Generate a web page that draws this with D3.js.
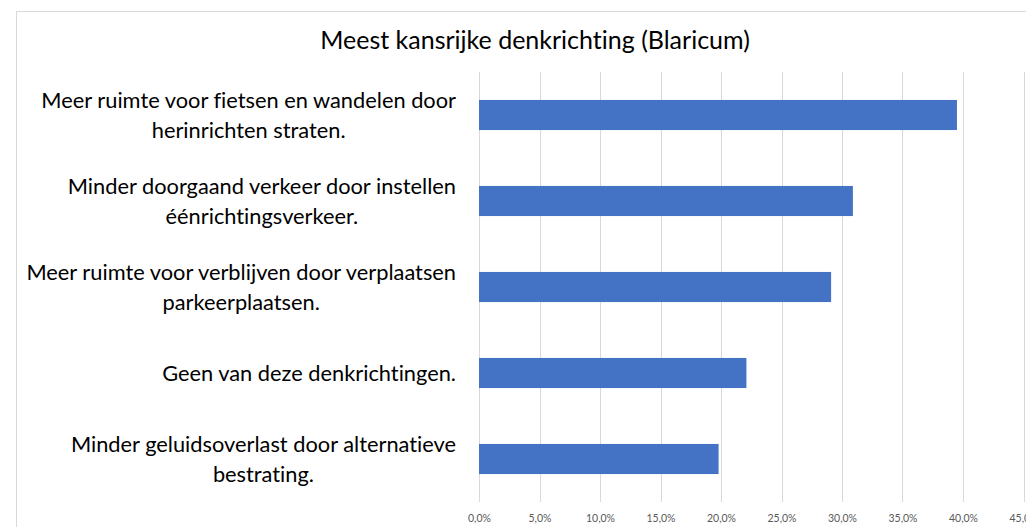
<!DOCTYPE html>
<meta charset="utf-8">
<script src="https://cdn.jsdelivr.net/npm/d3@7/dist/d3.min.js"></script>
<style>
  body { margin: 0; background: #fff; }
  text { font-variant-ligatures: none; }
</style>
<svg width="1026" height="527"></svg>
<script>
// data
var titleText = "Meest kansrijke denkrichting (Blaricum)";
var categories = [
  ["Meer ruimte voor fietsen en wandelen door", "herinrichten straten."],
  ["Minder doorgaand verkeer door instellen", "éénrichtingsverkeer."],
  ["Meer ruimte voor verblijven door verplaatsen", "parkeerplaatsen."],
  ["Geen van deze denkrichtingen."],
  ["Minder geluidsoverlast door alternatieve", "bestrating."]
];
var values = [0.395, 0.309, 0.291, 0.221, 0.198];
var xTicks = [0, 0.05, 0.10, 0.15, 0.20, 0.25, 0.30, 0.35, 0.40, 0.45];

var svg = d3.select("svg"),
  width = +svg.attr("width"),
  height = +svg.attr("height"),
  margin = { top: 72, right: 2.5, bottom: 25, left: 479 };

var nl = d3.formatLocale({ decimal: ",", thousands: ".", grouping: [3], currency: ["", "€"] });
var pct = nl.format(".1%");

//chart border
svg.append("rect")
  .attr("x", 16.5).attr("y", 11.5)
  .attr("width", 1100).attr("height", 600)
  .attr("fill", "#fff")
  .attr("stroke", "#d9d9d9");

//Title
svg.append("text")
  .attr("x", 535).attr("y", 49)
  .attr("text-anchor", "middle")
  .attr("font-family", "Lato, sans-serif")
  .attr("font-size", 25)
  .attr("fill", "#000")
  .text(titleText);

var x = d3.scaleLinear().domain([0, 0.45]).range([margin.left, width - margin.right]);
var y = d3.scaleBand()
  .domain(d3.range(categories.length))
  .range([margin.top, height - margin.bottom])
  .paddingInner(0.65).paddingOuter(0.325);

//grid lines
svg.append("g")
  .selectAll("line")
  .data(xTicks)
  .enter().append("line")
  .attr("x1", function(d) { return Math.round(x(d)) + 0.5; })
  .attr("x2", function(d) { return Math.round(x(d)) + 0.5; })
  .attr("y1", margin.top)
  .attr("y2", height - margin.bottom)
  .attr("stroke", "#d9d9d9")
  .attr("stroke-width", 1);

//x axis labels
var xAxis = svg.append("g")
  .attr("transform", "translate(0," + (height - 5) + ")")
  .call(d3.axisBottom(x).tickValues(xTicks).tickFormat(pct).tickSize(0).tickPadding(0));
xAxis.select(".domain").remove();
xAxis.selectAll("text")
  .attr("dy", 0)
  .attr("font-family", "Lato, sans-serif")
  .attr("font-size", 10.5)
  .attr("fill", "#595959");

//bars
svg.append("g")
  .selectAll("rect")
  .data(values)
  .enter().append("rect")
  .attr("x", x(0))
  .attr("y", function(d, i) { return y(i); })
  .attr("width", function(d) { return x(d) - x(0); })
  .attr("height", y.bandwidth())
  .attr("fill", "#4472c4");

//category labels (centered block, right edge at 456)
var labels = svg.append("g")
  .attr("font-family", "Lato, sans-serif")
  .attr("font-size", 21.8)
  .attr("fill", "#000");

categories.forEach(function(lines, i) {
  var cy = y(i) + y.bandwidth() / 2;
  var lh = 30;
  var t = labels.append("text").attr("text-anchor", "middle");
  lines.forEach(function(line, j) {
    t.append("tspan")
      .attr("y", cy + (j - (lines.length - 1) / 2) * lh)
      .attr("dy", "0.35em")
      .text(line);
  });
  var w = d3.max(t.selectAll("tspan").nodes(), function(n) { return n.getComputedTextLength(); });
  t.selectAll("tspan").attr("x", 456 - w / 2);
});
</script>
